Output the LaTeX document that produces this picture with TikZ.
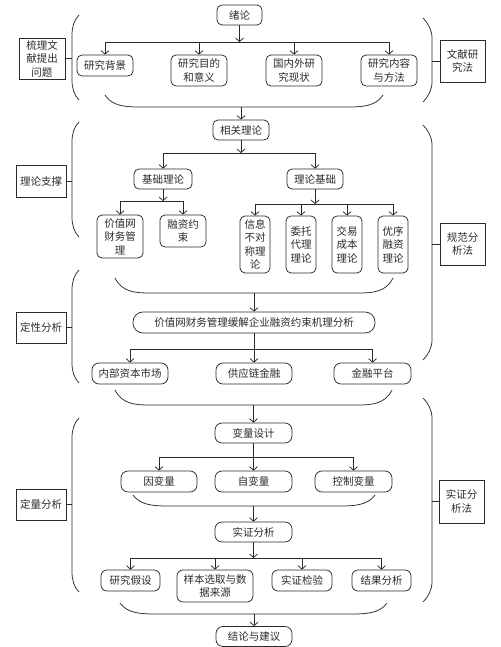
\documentclass[tikz,border=0pt]{standalone}
\usepackage{fontspec}
\newfontfamily\cjk{Noto Sans CJK SC}
\usetikzlibrary{arrows.meta}
\definecolor{ink}{HTML}{2A2A2A}
\newcommand\mylbrk[2]{\draw[ln] (79,#1) .. controls (74,#1+5) and (72,#1+12) .. (72,#1+20) -- (72,#2-20) .. controls (72,#2-12) and (74,#2-5) .. (79,#2);}
\newcommand\myrbrk[2]{\draw[ln] (423,#1) .. controls (428,#1+5) and (432,#1+12) .. (432,#1+20) -- (432,#2-20) .. controls (432,#2-12) and (428,#2-5) .. (423,#2);}
\newcommand\mybrace[4]{\draw[ln] (#1,#3) .. controls (#1+7,#4-1) and (#1+20,#4) .. (#1+35,#4) -- (#2-35,#4) .. controls (#2-20,#4) and (#2-7,#4-1) .. (#2,#3);}
\begin{document}
\begin{tikzpicture}[x=1pt,y=-1pt,
  ln/.style={draw=ink,line width=0.75pt},
  arr/.style={ln,-{Straight Barb[length=3.5pt,width=8pt]}},
  box/.style={ln,rounded corners=5pt,inner sep=0pt,align=center,text=ink,
    font=\cjk\fontsize{10.5}{13.5}\selectfont},
  pill/.style={box,rounded corners=10pt},
  lab/.style={ln,inner sep=0pt,align=center,text=ink,
    font=\cjk\fontsize{10.5}{13.5}\selectfont}]
\useasboundingbox (0,0) rectangle (500,647);
% ---- section 1
\node[box,minimum width=45,minimum height=20] (xulun) at (239.5,15) {绪论};
\node[box,minimum width=56,minimum height=21] (bg) at (105,65.5) {研究背景};
\node[box,minimum width=56,minimum height=31] (md) at (199,70.5) {研究目的\\和意义};
\node[box,minimum width=56,minimum height=31] (xz) at (294,70.5) {国内外研\\究现状};
\node[box,minimum width=56,minimum height=31] (nr) at (389,70.5) {研究内容\\与方法};
\coordinate (h1L) at (105,42); \coordinate (h1R) at (389,42);
\draw[ln] (h1L) -- (h1R);
\draw[arr] (xulun) -- (xulun |- h1L);
\foreach \n in {bg,md,xz,nr} \draw[arr] (\n |- h1L) -- (\n);
\mybrace{105}{383}{95}{107}
\coordinate (b1) at (243,107);
% ---- section 2
\node[box,minimum width=56,minimum height=20] (xgll) at (241,130) {相关理论};
\draw[arr] (xgll |- b1) -- (xgll);
\node[box,minimum width=58,minimum height=20] (jcll) at (163,179) {基础理论};
\node[box,minimum width=56,minimum height=20] (lljc) at (315,179) {理论基础};
\coordinate (h2L) at (163,153); \coordinate (h2R) at (315,153);
\draw[ln] (h2L) -- (h2R);
\draw[arr] (xgll) -- (xgll |- h2L);
\draw[arr] (jcll |- h2L) -- (jcll);
\draw[arr] (lljc |- h2L) -- (lljc);
\node[box,minimum width=46,minimum height=43] (jzw) at (120,236.5) {价值网\\财务管\\理};
\node[box,minimum width=46,minimum height=32] (rzys) at (183,231) {融资约\\束};
\coordinate (h3L) at (120,201); \coordinate (h3R) at (183,201);
\draw[ln] (h3L) -- (h3R);
\draw[arr] (jcll) -- (jcll |- h3L);
\draw[arr] (jzw |- h3L) -- (jzw);
\draw[arr] (rzys |- h3L) -- (rzys);
\node[box,minimum width=30,minimum height=57] (xx) at (255,244.5) {信息\\不对\\称理\\论};
\node[box,minimum width=30,minimum height=57] (wt) at (301,244.5) {委托\\代理\\理论};
\node[box,minimum width=30,minimum height=57] (jy) at (347,244.5) {交易\\成本\\理论};
\node[box,minimum width=30,minimum height=57] (yx) at (393,244.5) {优序\\融资\\理论};
\coordinate (h4L) at (255,204); \coordinate (h4R) at (393,204);
\draw[ln] (h4L) -- (h4R);
\draw[arr] (lljc) -- (lljc |- h4L);
\foreach \n in {xx,wt,jy,yx} \draw[arr] (\n |- h4L) -- (\n);
\mybrace{115}{393}{278}{293}
\coordinate (b2) at (254,293);
% ---- section 3
\node[pill,minimum width=242,minimum height=21] (jl) at (254,322.5) {价值网财务管理缓解企业融资约束机理分析};
\draw[arr] (jl |- b2) -- (jl);
\node[box,rounded corners=7pt,minimum width=76,minimum height=21] (nb) at (130,373.5) {内部资本市场};
\node[box,rounded corners=7pt,minimum width=76,minimum height=21] (gy) at (254,373.5) {供应链金融};
\node[box,rounded corners=7pt,minimum width=77,minimum height=21] (jr) at (372.5,373.5) {金融平台};
\coordinate (h5L) at (130,349); \coordinate (h5R) at (372.5,349);
\draw[ln] (h5L) -- (h5R);
\draw[ln] (jl) -- (jl |- h5L);
\foreach \n in {nb,gy,jr} \draw[arr] (\n |- h5L) -- (\n);
\mybrace{115}{392}{390}{405}
\coordinate (b3) at (253.5,405);
% ---- section 4
\node[box,rounded corners=7pt,minimum width=77,minimum height=20] (blsj) at (253.5,433) {变量设计};
\draw[arr] (blsj |- b3) -- (blsj);
\node[box,rounded corners=7pt,minimum width=76,minimum height=21] (ybl) at (159,481.5) {因变量};
\node[box,rounded corners=7pt,minimum width=77,minimum height=21] (zbl) at (253.5,481.5) {自变量};
\node[box,rounded corners=7pt,minimum width=77,minimum height=21] (kz) at (353.5,481.5) {控制变量};
\coordinate (h6L) at (159,457); \coordinate (h6R) at (353.5,457);
\draw[ln] (h6L) -- (h6R);
\draw[ln] (blsj) -- (blsj |- h6L);
\foreach \n in {ybl,zbl,kz} \draw[arr] (\n |- h6L) -- (\n);
\mybrace{133}{375}{495}{506}
\coordinate (b4) at (253.5,506);
\node[box,rounded corners=7pt,minimum width=77,minimum height=20] (sz) at (253.5,532) {实证分析};
\draw[arr] (sz |- b4) -- (sz);
\node[box,rounded corners=6pt,minimum width=59,minimum height=21] (jx) at (130.5,580.5) {研究假设};
\node[box,rounded corners=6pt,minimum width=76,minimum height=32] (ybq) at (215,586) {样本选取与数\\据来源};
\node[box,rounded corners=6pt,minimum width=60,minimum height=21] (sj) at (302,580.5) {实证检验};
\node[box,rounded corners=6pt,minimum width=59,minimum height=21] (jg) at (381.5,580.5) {结果分析};
\coordinate (h7L) at (130.5,558); \coordinate (h7R) at (381.5,558);
\draw[ln] (h7L) -- (h7R);
\draw[arr] (sz) -- (sz |- h7L);
\foreach \n in {jx,ybq,sj,jg} \draw[arr] (\n |- h7L) -- (\n);
\mybrace{120}{387}{603}{614}
\coordinate (b5) at (254,614);
\node[box,rounded corners=7pt,minimum width=76,minimum height=20] (jljy) at (254,636.5) {结论与建议};
\draw[arr] (jljy |- b5) -- (jljy);
% ---- side brackets and labels
\mylbrk{15}{100}
\mylbrk{122}{237}
\mylbrk{270}{383}
\mylbrk{418}{592}
\myrbrk{18}{102}
\myrbrk{125}{360}
\myrbrk{398}{602}
\node[lab,minimum width=46,minimum height=41] (L1) at (42,58.5) {梳理文\\献提出\\问题};
\node[lab,minimum width=50,minimum height=32] (L2) at (41,181) {理论支撑};
\node[lab,minimum width=50,minimum height=31] (L3) at (41,327.5) {定性分析};
\node[lab,minimum width=50,minimum height=31] (L4) at (41,504.5) {定量分析};
\node[lab,minimum width=45,minimum height=42] (R1) at (462.5,61) {文献研\\究法};
\node[lab,minimum width=45,minimum height=42] (R2) at (462.5,244) {规范分\\析法};
\node[lab,minimum width=45,minimum height=43] (R3) at (461.5,501.5) {实证分\\析法};
\coordinate (lx) at (72,0); \coordinate (rx) at (432,0);
\foreach \n in {L1,L2,L3,L4} \draw[ln] (\n.east) -- (\n.east -| lx);
\foreach \n in {R1,R2,R3} \draw[ln] (\n.west) -- (\n.west -| rx);
\end{tikzpicture}
\end{document}
